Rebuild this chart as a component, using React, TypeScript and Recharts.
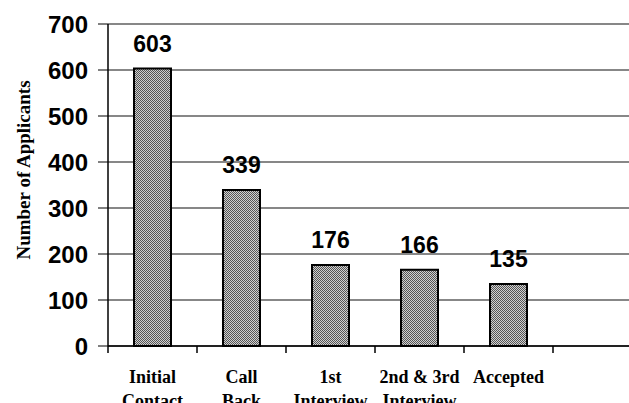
import React from "react";
import { BarChart, Bar, XAxis, YAxis, CartesianGrid, LabelList, Label } from "recharts";

const categories = ["Initial|Contact", "Call|Back", "1st|Interview", "2nd & 3rd|Interview", "Accepted", ""];
const applicants: (number | null)[] = [603, 339, 176, 166, 135, null];
const yTicks = [0, 100, 200, 300, 400, 500, 600, 700];
const yTitle = "Number of Applicants";

const data = categories.map((c, i) => ({ name: c, value: applicants[i] }));

const CatTick = (props: any) => {
  const { x, y, payload } = props;
  const off = payload && payload.offset != null ? payload.offset : 44.5;
  const lines = String(payload.value).split("|");
  return (
    <g>
      <line x1={x - off} x2={x - off} y1={y - 8} y2={y - 1} stroke="#000" strokeWidth={1.5} />
      {lines[0] !== "" &&
        lines.map((l, i) => (
          <text
            key={i}
            x={x}
            y={y + 29 + i * 24}
            textAnchor="middle"
            fontFamily="'Liberation Serif', 'Times New Roman', serif"
            fontWeight="bold"
            fontSize={18}
            fill="#000"
          >
            {l}
          </text>
        ))}
    </g>
  );
};

const YTitle = (props: any) => {
  const vb = props.viewBox || { x: 0, y: 24, width: 108, height: 322 };
  const cx = vb.x + 30;
  const cy = vb.y + vb.height / 2 - 15;
  return (
    <text
      x={cx}
      y={cy}
      transform={`rotate(-90, ${cx}, ${cy})`}
      textAnchor="middle"
      fontFamily="'Liberation Serif', 'Times New Roman', serif"
      fontWeight="bold"
      fontSize={19}
      fill="#000"
    >
      {yTitle}
    </text>
  );
};

export default function App() {
  return (
    <div style={{ position: "absolute", left: 0, top: 0, width: 629, height: 403, overflow: "hidden", background: "#fff" }}>
      <BarChart
        width={660}
        height={403}
        data={data}
        margin={{ top: 24, right: 18, bottom: 0, left: 0 }}
        barCategoryGap={0}
      >
        <defs>
          <pattern id="dots" width={2} height={2} patternUnits="userSpaceOnUse">
            <rect x={0} y={0} width={2} height={2} fill="#d0d0d0" />
            <rect x={0} y={0} width={1} height={1} fill="#555" />
            <rect x={1} y={1} width={1} height={1} fill="#555" />
          </pattern>
        </defs>
        <CartesianGrid vertical={false} stroke="#111" strokeWidth={1.2} />
        <XAxis
          dataKey="name"
          height={57}
          axisLine={{ stroke: "#000", strokeWidth: 1.5 }}
          tickLine={false}
          interval={0}
          tick={<CatTick />}
        />
        <YAxis
          width={108}
          domain={[0, 700]}
          ticks={yTicks}
          interval={0}
          axisLine={{ stroke: "#000", strokeWidth: 1.5 }}
          tickLine={{ stroke: "#000" }}
          tickSize={10}
          tickMargin={10}
          tick={{ fontFamily: "'Liberation Sans', Arial, sans-serif", fontWeight: "bold", fontSize: 24, fill: "#000" }}
        >
          <Label content={<YTitle />} />
        </YAxis>
        <Bar dataKey="value" fill="url(#dots)" stroke="#000" strokeWidth={2} barSize={37} isAnimationActive={false}>
          <LabelList
            dataKey="value"
            position="top"
            offset={17}
            style={{ fontFamily: "'Liberation Sans', Arial, sans-serif", fontWeight: "bold", fontSize: 23, fill: "#000" }}
          />
        </Bar>
      </BarChart>
    </div>
  );
}
